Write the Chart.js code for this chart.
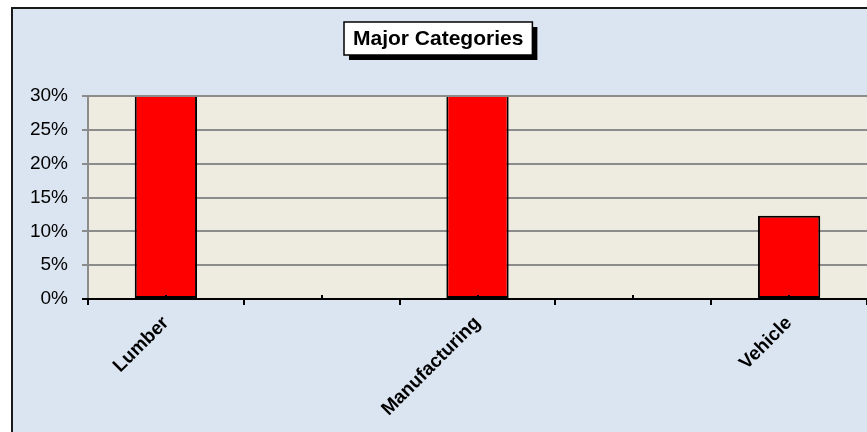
<!DOCTYPE html>
<html>
<head>
<meta charset="utf-8">
<script src="https://cdn.jsdelivr.net/npm/chart.js@4/dist/chart.umd.min.js"></script>
<style>
  html, body { margin: 0; padding: 0; background: #ffffff; }
  #wrap { width: 867px; height: 432px; position: relative; }
</style>
</head>
<body>
<div id="wrap"><canvas id="chart"></canvas></div>
<script>
// ------------------ DATA ------------------
const chartTitle = 'Major Categories';
const categories = ['Lumber', '', 'Manufacturing', '', 'Vehicle'];
const shares = [0.40, null, 0.40, null, 0.123];
const yTicks = [0, 0.05, 0.10, 0.15, 0.20, 0.25, 0.30];

const FONT = '"Liberation Sans", Arial, sans-serif';

// ------------------ DECORATION ------------------
const frame = {
    id: 'frame',
    beforeDraw(chart) {
        const { ctx, chartArea: a, width, height } = chart;
        ctx.save();
        ctx.fillStyle = '#dbe5f1';
        ctx.fillRect(12, 8, width - 12, height - 8);
        ctx.strokeStyle = '#1a1a1a';
        ctx.lineWidth = 2;
        ctx.beginPath();
        ctx.moveTo(12, height + 2);
        ctx.lineTo(12, 8);
        ctx.lineTo(width + 2, 8);
        ctx.stroke();
        ctx.fillStyle = '#eeebe0';
        ctx.fillRect(a.left, a.top, a.right - a.left, a.bottom - a.top);
        ctx.restore();
    },
    afterDatasetsDraw(chart) {
        const { ctx, chartArea: a, scales } = chart;
        ctx.save();
        // plot border
        ctx.strokeStyle = '#8c8c8c';
        ctx.lineWidth = 2;
        ctx.beginPath();
        ctx.moveTo(a.left, a.bottom);
        ctx.lineTo(a.left, a.top);
        ctx.lineTo(a.right + 2, a.top);
        ctx.stroke();
        // x axis line
        ctx.strokeStyle = '#000';
        ctx.beginPath();
        ctx.moveTo(a.left - 6, a.bottom);
        ctx.lineTo(a.right, a.bottom);
        ctx.stroke();
        // minor ticks inside at category centres
        categories.forEach((c, i) => {
            const x = Math.round(scales.x.getPixelForValue(i));
            ctx.beginPath();
            ctx.moveTo(x, a.bottom);
            ctx.lineTo(x, a.bottom - 4);
            ctx.stroke();
        });
        // title box with shadow
        ctx.font = 'bold 21px ' + FONT;
        const tw = ctx.measureText(chartTitle).width;
        const bw = tw + 18, bh = 33;
        const bx = Math.round(438 - bw / 2), by = 22;
        ctx.fillStyle = '#000';
        ctx.fillRect(bx + 5, by + 5, bw, bh);
        ctx.fillStyle = '#fff';
        ctx.fillRect(bx, by, bw, bh);
        ctx.lineWidth = 1.5;
        ctx.strokeRect(bx, by, bw, bh);
        ctx.fillStyle = '#000';
        ctx.textAlign = 'center';
        ctx.textBaseline = 'middle';
        ctx.fillText(chartTitle, bx + bw / 2, by + bh / 2 + 1);
        ctx.restore();
    }
};

// ------------------ CHART ------------------
new Chart(document.getElementById('chart'), {
    type: 'bar',
    data: {
        labels: categories,
        datasets: [{
            data: shares,
            backgroundColor: '#ff0000',
            borderColor: '#000000',
            borderWidth: 2,
            borderSkipped: false,
            barPercentage: 0.4,
            categoryPercentage: 1.0,
            clip: 0
        }]
    },
    options: {
        responsive: true,
        maintainAspectRatio: false,
        animation: false,
        layout: { padding: { top: 96, right: 0, left: 0, bottom: 0 } },
        plugins: { legend: { display: false }, title: { display: false }, tooltip: { enabled: false } },
        scales: {
            x: {
                offset: true,
                grid: { offset: true, drawOnChartArea: false, color: '#000', lineWidth: 2, tickLength: 6 },
                border: { display: false },
                ticks: {
                    autoSkip: false,
                    maxRotation: 45, minRotation: 45,
                    color: '#000',
                    padding: 7,
                    font: { family: FONT, size: 19, weight: 'bold' }
                },
                afterFit(scale) { scale.height = 133; }
            },
            y: {
                min: 0, max: 0.3,
                afterBuildTicks(scale) { scale.ticks = yTicks.map(v => ({ value: v })); },
                grid: { color: '#8c8c8c', lineWidth: 2, tickLength: 6 },
                border: { display: false },
                ticks: {
                    color: '#000',
                    padding: 14,
                    font: { family: FONT, size: 19 },
                    callback: v => Math.round(v * 100) + '%'
                },
                afterFit(scale) { scale.width = 88; }
            }
        }
    },
    plugins: [frame]
});
</script>
</body>
</html>
